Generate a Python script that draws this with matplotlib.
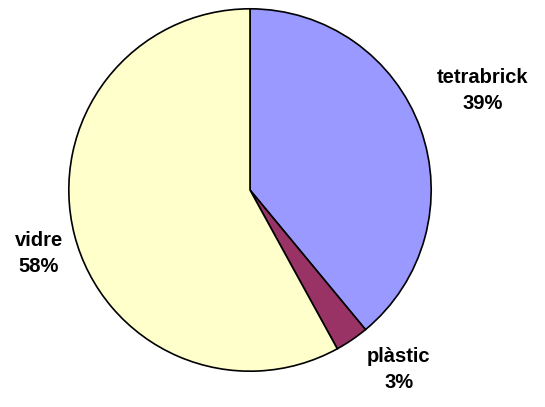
import matplotlib
matplotlib.use("Agg")
import matplotlib.pyplot as plt

labels = ["tetrabrick", "plàstic", "vidre"]
shares = [39, 3, 58]
colors = ["#9999FF", "#993366", "#FFFFCC"]

# label anchor positions (pie radius = 1)
label_pos = [(1.285, 0.55), (0.82, -0.99), (-1.165, -0.35)]

fig = plt.figure(figsize=(5.45, 4.07), dpi=100)
ax = fig.add_axes([67 / 545, 34 / 407, 366 / 545, 366 / 407])

ax.pie(shares, colors=colors, startangle=90, counterclock=False,
       radius=1, wedgeprops=dict(edgecolor="black", linewidth=1.2))

for lab, val, (x, y) in zip(labels, shares, label_pos):
    ax.text(x, y, f"{lab}\n{val}%", ha="center", va="center",
            fontsize=14.5, fontweight="bold", family="Liberation Sans",
            linespacing=1.45)

ax.set_xlim(-1.01, 1.01)
ax.set_ylim(-1.01, 1.01)
ax.set_aspect("equal")
ax.axis("off")

fig.savefig("out.png", dpi=100)
